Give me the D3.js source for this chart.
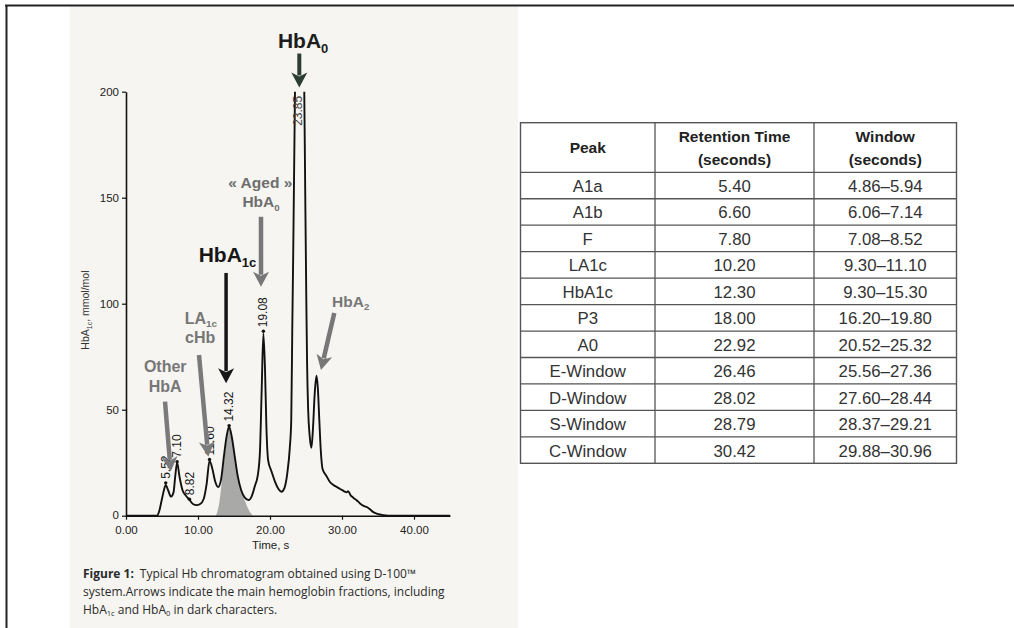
<!DOCTYPE html>
<html>
<head>
<meta charset="utf-8">
<script src="https://cdn.jsdelivr.net/npm/d3@7"></script>
<style>
  html, body { margin: 0; padding: 0; background: #ffffff; }
  svg { display: block; }
</style>
</head>
<body>
<svg id="chart" width="1014" height="628"></svg>
<script>
// ---------------- DATA ----------------
// Chromatogram trace (time in s, signal in mmol/mol)
const traceTime = [0, 4.3, 4.6, 5.0, 5.3, 5.52, 5.85, 6.25, 6.6, 6.85, 7.10, 7.45, 7.85, 8.3, 8.82, 9.3, 9.8, 10.3, 10.8, 11.2, 11.60, 12.0, 12.4, 12.8, 13.2, 13.6, 14.0, 14.32, 14.7, 15.1, 15.5, 16.0, 16.5, 17.0, 17.5, 17.9, 18.3, 18.6, 18.85, 19.08, 19.3, 19.5, 19.75, 20.2, 20.7, 21.2, 21.6, 22.0, 22.4, 22.75, 22.95, 23.1, 23.47, 23.6, 23.85, 24.3, 24.6, 24.76, 24.9, 25.05, 25.15, 25.3, 25.5, 25.75, 25.95, 26.2, 26.45, 26.65, 26.85, 27.05, 27.3, 27.8, 28.3, 28.8, 29.3, 29.8, 30.3, 30.65, 30.85, 31.2, 31.6, 32.0, 32.5, 33.0, 33.5, 33.9, 34.3, 34.8, 35.5, 36.5, 45];
const traceValue = [0, 0, 2, 8, 12.5, 14.5, 12, 9, 11, 19, 25, 18, 12, 9.5, 7.5, 5.5, 5, 5.5, 8, 15, 26, 22, 16, 13.5, 17, 28, 38, 42, 37, 28, 19, 12, 8.5, 7.4, 9.5, 14, 19, 30, 60, 86, 70, 42, 26, 21, 16, 12.5, 11.3, 13, 20, 32, 45, 90, 200, 260, 290, 280, 240, 200, 150, 100, 72, 50, 38, 32, 40, 57, 66, 60, 45, 31, 22, 19, 16, 14.5, 13.5, 12.5, 11.5, 11, 11.6, 9.6, 8.4, 7.4, 5.8, 4.6, 4, 3, 1.8, 1, 0.4, 0, 0];

// Shaded HbA1c peak area
const hba1cTime = [12.5, 13.0, 13.4, 13.8, 14.1, 14.32, 14.7, 15.1, 15.5, 16.0, 16.5, 17.0, 17.6];
const hba1cValue = [0, 7, 19, 31, 39, 42, 37, 28, 19, 12, 7, 3, 0];

// Peak retention-time labels
const peakLabels = ["5.52", "7.10", "8.82", "11.60", "14.32", "19.08", "23.85"];
const peakTime = [5.52, 7.10, 8.82, 11.60, 14.32, 19.08, 23.82];
const peakHeight = [15.5, 25.5, 7.8, 26.5, 42.5, 87, 182];

// Axis ticks
const xTicks = [0, 10, 20, 30, 40];
const yTicks = [0, 50, 100, 150, 200];

// Annotation arrows (data coordinates: time, value)
const arrowNames = ["HbA0", "Aged", "HbA1c", "LA1c", "Other", "HbA2"];
const arrowFrom = [[24.07, 218], [18.75, 141], [13.9, 114.5], [10.14, 75.8], [5.42, 53.8], [28.93, 95.6]];
const arrowTo = [[24.07, 202], [18.75, 108], [13.9, 62.5], [11.43, 27.8], [6.21, 20.8], [27.08, 68.7]];

// Table
const tableHeaders = [["Peak"], ["Retention Time", "(seconds)"], ["Window", "(seconds)"]];
const peakNames = ["A1a", "A1b", "F", "LA1c", "HbA1c", "P3", "A0", "E-Window", "D-Window", "S-Window", "C-Window"];
const retentionTimes = ["5.40", "6.60", "7.80", "10.20", "12.30", "18.00", "22.92", "26.46", "28.02", "28.79", "30.42"];
const windowRanges = ["4.86–5.94", "6.06–7.14", "7.08–8.52", "9.30–11.10", "9.30–15.30", "16.20–19.80", "20.52–25.32", "25.56–27.36", "27.60–28.44", "28.37–29.21", "29.88–30.96"];

// ---------------- DRAW ----------------
const svg = d3.select("#chart");

// scanned figure background + frame
svg.append("rect").attr("x", 70).attr("y", 5).attr("width", 448).attr("height", 623).attr("fill", "#f6f5f1");
svg.append("line").attr("x1", 5).attr("x2", 1014).attr("y1", 5.5).attr("y2", 5.5).attr("stroke", "#222").attr("stroke-width", 2);
svg.append("line").attr("x1", 6.5).attr("x2", 6.5).attr("y1", 5).attr("y2", 628).attr("stroke", "#222").attr("stroke-width", 2);

const x = d3.scaleLinear().domain([0, 45]).range([126, 450]);
const y = d3.scaleLinear().domain([0, 200]).range([515.7, 91.7]);

const defs = svg.append("defs");
defs.append("clipPath").attr("id", "plotclip")
  .append("rect").attr("x", 120).attr("y", y(200)).attr("width", 340).attr("height", y(0) - y(200) + 4);

// shaded HbA1c area
const shade = hba1cTime.map((t, i) => [t, hba1cValue[i]]);
svg.append("path")
  .datum(shade)
  .attr("d", d3.area().x(d => x(d[0])).y0(y(0)).y1(d => y(d[1])).curve(d3.curveMonotoneX))
  .attr("fill", "#a9a9a7");

// axes
const xAxis = d3.axisBottom(x).tickValues(xTicks).tickFormat(d3.format(".2f")).tickSize(4).tickSizeOuter(0);
const gx = svg.append("g").attr("transform", `translate(0,${y(0)})`).call(xAxis);
gx.select(".domain").attr("stroke", "#111").attr("stroke-width", 1.6);
gx.selectAll(".tick line").attr("stroke", "#111").attr("stroke-width", 1.2);
gx.selectAll(".tick text").attr("font-family", "Liberation Sans, Arial, sans-serif").attr("font-size", 11.5).attr("fill", "#222")
  .attr("y", 18.5).attr("dy", 0);

const yAxis = d3.axisLeft(y).tickValues(yTicks).tickFormat(d3.format("d")).tickSize(4).tickSizeOuter(0);
const gy = svg.append("g").attr("transform", `translate(${x(0)},0)`).call(yAxis);
gy.select(".domain").attr("stroke", "#111").attr("stroke-width", 1.6);
gy.selectAll(".tick line").attr("stroke", "#111").attr("stroke-width", 1.2);
gy.selectAll(".tick text").attr("font-family", "Liberation Sans, Arial, sans-serif").attr("font-size", 11.5).attr("fill", "#222").attr("x", -7);
// lift the zero label slightly so it clears the "0.00" label
gy.selectAll(".tick text").filter(d => d === 0).attr("dy", "0.2em");

// axis titles
svg.append("text")
  .attr("x", x(20.1)).attr("y", 549)
  .attr("text-anchor", "middle")
  .attr("font-family", "Liberation Sans, Arial, sans-serif").attr("font-size", 11.5).attr("fill", "#222")
  .text("Time, s");

const yTitle = svg.append("text")
  .attr("transform", `translate(89,${y(97)}) rotate(-90)`)
  .attr("text-anchor", "middle")
  .attr("font-family", "Liberation Sans, Arial, sans-serif").attr("font-size", 10.5).attr("fill", "#333");
yTitle.append("tspan").text("HbA");
yTitle.append("tspan").attr("font-size", 7).attr("dy", 3).text("1c");
yTitle.append("tspan").attr("dy", -3).text(", mmol/mol");

// trace
const trace = traceTime.map((t, i) => [t, traceValue[i]]);
svg.append("path")
  .datum(trace)
  .attr("clip-path", "url(#plotclip)")
  .attr("d", d3.line().x(d => x(d[0])).y(d => y(d[1])).curve(d3.curveMonotoneX))
  .attr("fill", "none").attr("stroke", "#111").attr("stroke-width", 1.9).attr("stroke-linejoin", "round");

// peak dots and labels
peakLabels.forEach((lab, i) => {
  const px = x(peakTime[i]), py = y(peakHeight[i]);
  if (peakHeight[i] < 150) {
    svg.append("circle").attr("cx", px).attr("cy", py).attr("r", 1.7).attr("fill", "#111");
  }
  svg.append("text")
    .attr("transform", `translate(${px + 4},${py - 4}) rotate(-90)`)
    .attr("text-anchor", "start")
    .attr("font-family", "Liberation Sans, Arial, sans-serif").attr("font-size", 12)
    .attr("fill", peakHeight[i] < 150 ? "#1a1a1a" : "#444")
    .text(lab);
});

// arrows
const arrowColor = { HbA0: "#2c3d33", Aged: "#777", HbA1c: "#161616", LA1c: "#7a7a7a", Other: "#7a7a7a", HbA2: "#777" };
const arrowShaft = { HbA0: 4, Aged: 4.5, HbA1c: 3.5, LA1c: 4.5, Other: 4.5, HbA2: 4.5 };
arrowNames.forEach((n, i) => {
  const x1 = x(arrowFrom[i][0]), y1 = y(arrowFrom[i][1]);
  const x2 = x(arrowTo[i][0]), y2 = y(arrowTo[i][1]);
  const dx = x2 - x1, dy = y2 - y1, len = Math.hypot(dx, dy);
  const ux = dx / len, uy = dy / len;
  const hl = 15, hw = 8;
  const bx = x2 - ux * hl, by = y2 - uy * hl;
  svg.append("line").attr("x1", x1).attr("y1", y1).attr("x2", bx + ux * 3).attr("y2", by + uy * 3)
    .attr("stroke", arrowColor[n]).attr("stroke-width", arrowShaft[n]);
  svg.append("path")
    .attr("d", `M${x2},${y2} L${bx - uy * hw},${by + ux * hw} L${bx + ux * 4},${by + uy * 4} L${bx + uy * hw},${by - ux * hw} Z`)
    .attr("fill", arrowColor[n]);
});

// annotation labels
function label(t, v, parts, size, color, weight) {
  const txt = svg.append("text").attr("x", x(t)).attr("y", y(v))
    .attr("text-anchor", "middle")
    .attr("font-family", "Liberation Sans, Arial, sans-serif")
    .attr("font-size", size).attr("font-weight", weight || "bold").attr("fill", color);
  parts.forEach(p => {
    if (p.sub) txt.append("tspan").attr("font-size", size * 0.62).attr("dy", size * 0.22).text(p.sub);
    else txt.append("tspan").attr("dy", p.after ? -size * 0.22 : 0).text(p.t);
  });
}
label(24.6, 220.5, [{ t: "HbA" }, { sub: "0" }], 21, "#1d1d1d");
label(18.65, 154.5, [{ t: "« Aged »" }], 15.5, "#6e6e6e");
label(18.75, 145.5, [{ t: "HbA" }, { sub: "0" }], 15.5, "#6e6e6e");
label(14.1, 119.5, [{ t: "HbA" }, { sub: "1c" }], 21, "#161616");
label(10.4, 90.5, [{ t: "LA" }, { sub: "1c" }], 16, "#777");
label(10.3, 81.5, [{ t: "cHb" }], 16, "#777");
label(5.45, 68, [{ t: "Other" }], 16, "#777");
label(5.45, 58.5, [{ t: "HbA" }], 16, "#777");
label(31.2, 98.5, [{ t: "HbA" }, { sub: "2" }], 15.5, "#777");

// caption
const capFont = "Open Sans, Liberation Sans, sans-serif";
const capSize = 12;
const c1 = svg.append("text").attr("x", 83).attr("y", 578).attr("font-family", capFont).attr("font-size", capSize).attr("fill", "#2a2a2a");
c1.append("tspan").attr("font-weight", "bold").text("Figure 1:");
c1.append("tspan").attr("dx", 6).text("Typical Hb chromatogram obtained using D-100™");
svg.append("text").attr("x", 83).attr("y", 596).attr("font-family", capFont).attr("font-size", capSize).attr("fill", "#2a2a2a")
  .text("system.Arrows indicate the main hemoglobin fractions, including");
const c3 = svg.append("text").attr("x", 83).attr("y", 613.5).attr("font-family", capFont).attr("font-size", capSize).attr("fill", "#2a2a2a");
c3.append("tspan").text("HbA");
c3.append("tspan").attr("font-size", 7.5).attr("dy", 2.5).text("1c");
c3.append("tspan").attr("dy", -2.5).text(" and HbA");
c3.append("tspan").attr("font-size", 7.5).attr("dy", 2.5).text("0");
c3.append("tspan").attr("dy", -2.5).text(" in dark characters.");

// ---------------- TABLE ----------------
const colEdges = [520.5, 655, 814, 956.5];
const tableTop = 122.7, headerBottom = 172.3, tableBottom = 463.3;
const rowScale = d3.scaleBand().domain(peakNames).range([headerBottom, tableBottom]);
const tbl = svg.append("g");
tbl.append("rect").attr("x", colEdges[0]).attr("y", tableTop).attr("width", colEdges[3] - colEdges[0]).attr("height", tableBottom - tableTop)
  .attr("fill", "#fff").attr("stroke", "#555").attr("stroke-width", 1.4);
colEdges.slice(1, 3).forEach(cx => {
  tbl.append("line").attr("x1", cx).attr("x2", cx).attr("y1", tableTop).attr("y2", tableBottom).attr("stroke", "#555").attr("stroke-width", 1.3);
});
[headerBottom].concat(peakNames.slice(1).map(n => rowScale(n))).forEach(ry => {
  tbl.append("line").attr("x1", colEdges[0]).attr("x2", colEdges[3]).attr("y1", ry).attr("y2", ry).attr("stroke", "#555").attr("stroke-width", 1.3);
});
const colCenter = [0, 1, 2].map(i => (colEdges[i] + colEdges[i + 1]) / 2);
const tFont = "Liberation Sans, Arial, sans-serif";
tableHeaders.forEach((lines, i) => {
  const t = tbl.append("text").attr("text-anchor", "middle").attr("font-family", tFont)
    .attr("font-size", 15.5).attr("font-weight", "bold").attr("fill", "#222");
  if (lines.length === 1) {
    t.attr("x", colCenter[i]).attr("y", 153).text(lines[0]);
  } else {
    t.append("tspan").attr("x", colCenter[i]).attr("y", 141.7).text(lines[0]);
    t.append("tspan").attr("x", colCenter[i]).attr("y", 164.5).text(lines[1]);
  }
});
const columns = [peakNames, retentionTimes, windowRanges];
columns.forEach((col, ci) => {
  col.forEach((val, ri) => {
    tbl.append("text")
      .attr("x", colCenter[ci])
      .attr("y", rowScale(peakNames[ri]) + rowScale.bandwidth() - 6.8)
      .attr("text-anchor", "middle").attr("font-family", tFont).attr("font-size", 16.8).attr("fill", "#333")
      .text(val);
  });
});
</script>
</body>
</html>
